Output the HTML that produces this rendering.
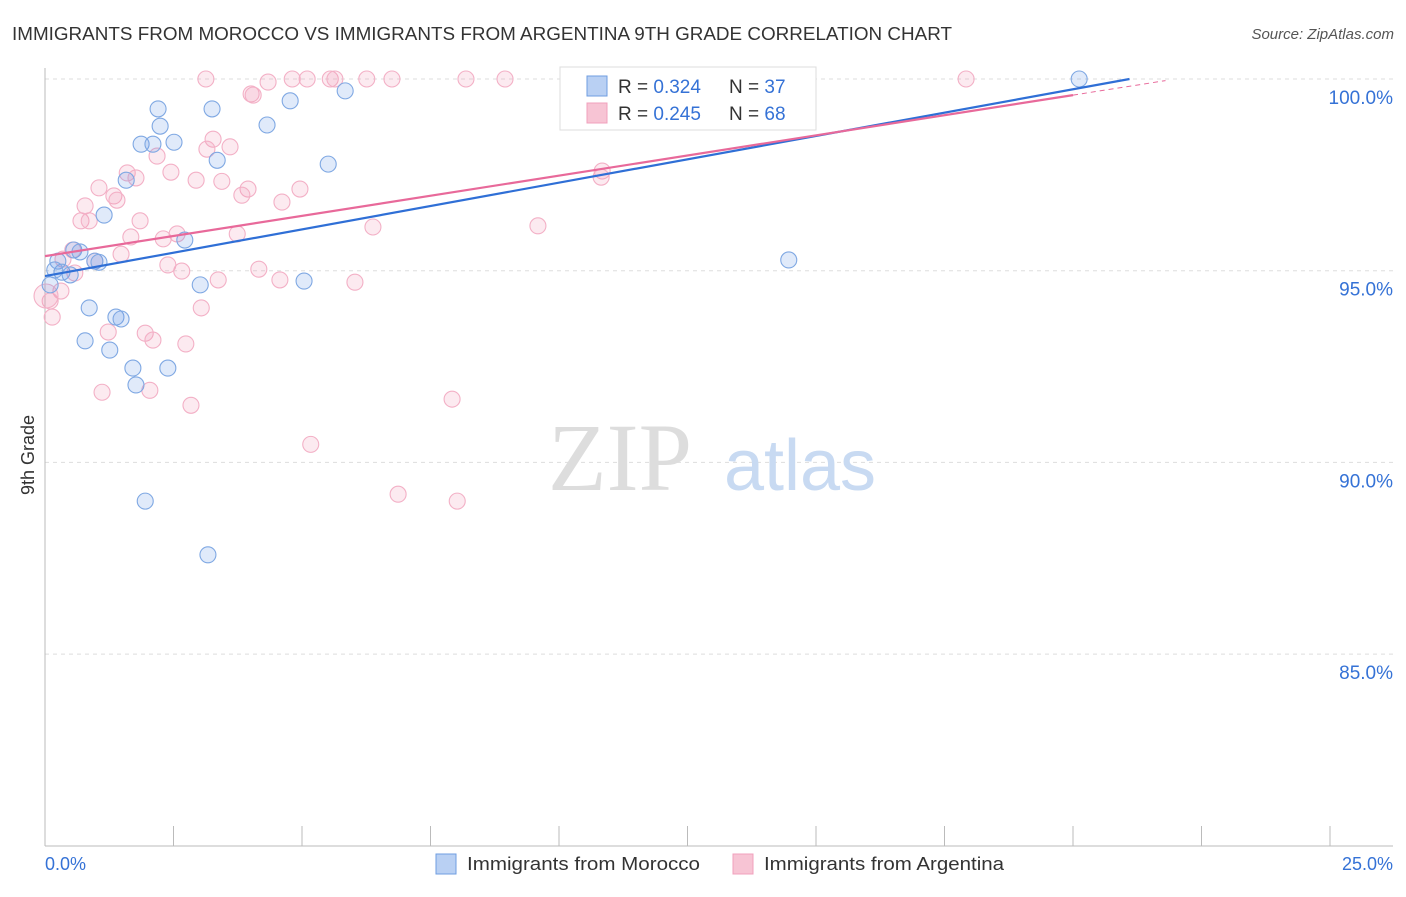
<!DOCTYPE html>
<html><head><meta charset="utf-8"><style>
body{margin:0;background:#fff;font-family:"Liberation Sans",sans-serif;}
</style></head><body>
<svg width="1406" height="892" xmlns="http://www.w3.org/2000/svg">
<text x="12" y="40" font-size="18" fill="#333" textLength="940" lengthAdjust="spacingAndGlyphs">IMMIGRANTS FROM MOROCCO VS IMMIGRANTS FROM ARGENTINA 9TH GRADE CORRELATION CHART</text>
<text x="1394" y="39" font-size="15" fill="#555" font-style="italic" text-anchor="end">Source: ZipAtlas.com</text>
<g id="grid"></g>
<text x="620" y="490" font-size="96" fill="#ddd" font-family="Liberation Serif,serif" text-anchor="middle">ZIP</text>
<text x="800" y="490" font-size="72" fill="#c8daf2" text-anchor="middle">atlas</text>
<text x="34" y="455" font-size="18" fill="#333" transform="rotate(-90 34 455)" text-anchor="middle">9th Grade</text>
<g id="pts"></g>
<g id="lines"></g>
<rect x="560" y="67" width="256" height="63" fill="#fff" stroke="#ddd"/>
<rect x="587" y="76" width="20" height="20" fill="#b9d0f3" stroke="#6f9ee0"/>
<rect x="587" y="103" width="20" height="20" fill="#f7c4d4" stroke="#f0a0bc"/>
<text x="618" y="93" font-size="19" fill="#333">R = <tspan fill="#3572d6">0.324</tspan></text>
<text x="729" y="93" font-size="19" fill="#333">N = <tspan fill="#3572d6">37</tspan></text>
<text x="618" y="120" font-size="19" fill="#333">R = <tspan fill="#3572d6">0.245</tspan></text>
<text x="729" y="120" font-size="19" fill="#333">N = <tspan fill="#3572d6">68</tspan></text>
<text x="45" y="870" font-size="18" fill="#3572d6">0.0%</text>
<text x="1393" y="870" font-size="18" fill="#3572d6" text-anchor="end">25.0%</text>
<rect x="436" y="854" width="20" height="20" fill="#b9d0f3" stroke="#6f9ee0"/>
<text x="467" y="870" font-size="18" fill="#333" textLength="233" lengthAdjust="spacingAndGlyphs">Immigrants from Morocco</text>
<rect x="733" y="854" width="20" height="20" fill="#f7c4d4" stroke="#f0a0bc"/>
<text x="764" y="870" font-size="18" fill="#333" textLength="240" lengthAdjust="spacingAndGlyphs">Immigrants from Argentina</text>
</svg>
<script>
const yTicks=[100,95,90,85];
const xTickCount=10;
const moroccoX=[20.12,2.2,3.25,4.77,5.84,2.24,4.32,1.87,2.1,2.51,3.35,5.51,1.58,1.15,0.56,0.68,2.72,0.25,0.97,1.05,0.33,0.49,14.47,3.02,5.04,0.86,1.38,1.48,0.78,1.26,1.71,2.39,1.77,1.95,3.17,0.1,0.19];
const moroccoY=[100,99.22,99.22,99.43,99.69,98.77,98.8,98.3,98.3,98.35,97.88,97.78,97.36,96.45,95.54,95.49,95.8,95.25,95.25,95.22,94.96,94.89,95.28,94.63,94.73,94.03,93.79,93.74,93.17,92.93,92.46,92.46,92.02,88.99,87.59,94.63,95.02];
const argentinaX=[3.13,4.34,4.81,5.1,5.55,5.64,6.26,6.75,8.19,8.95,17.92,4.01,4.05,3.27,2.18,3.15,3.6,1.6,1.77,2.45,2.94,3.44,3.95,4.96,1.05,1.34,1.4,3.83,0.78,4.61,0.7,0.86,1.85,1.67,2.3,2.57,3.74,6.38,9.59,10.84,10.82,0.54,0.35,0.97,1.48,2.39,2.66,4.16,0.58,3.37,4.57,6.03,0.31,3.04,0.1,0.14,1.23,1.95,2.1,2.74,1.11,2.04,2.84,7.92,5.17,6.87,8.02,0.02];
const argentinaY=[100,99.92,100,100,100,100,100,100,100,100,100,99.61,99.58,98.43,97.99,98.17,98.23,97.55,97.42,97.57,97.36,97.33,97.13,97.13,97.16,96.95,96.84,96.97,96.69,96.79,96.3,96.3,96.3,95.88,95.83,95.96,95.96,96.14,96.17,97.6,97.44,95.54,95.3,95.25,95.43,95.15,94.99,95.04,94.94,94.76,94.76,94.7,94.47,94.03,94.21,93.79,93.4,93.37,93.19,93.09,91.83,91.88,91.49,91.65,90.47,89.17,88.99,94.34];
const trendMorocco=[94.86,100,21.1];
const trendArgentina=[95.38,99.58,20.0,21.8];
const X0=45,X1=1330,Y100=79,PX5=191.7;
const sx=v=>X0+(X1-X0)*v/25;
const sy=v=>Y100+(100-v)/5*PX5;
const NS="http://www.w3.org/2000/svg";
function mk(t,a,p){const e=document.createElementNS(NS,t);for(const k in a)e.setAttribute(k,a[k]);p.appendChild(e);return e;}
const grid=document.getElementById('grid');
yTicks.forEach(v=>{
const l=mk('line',{x1:45,x2:1393,y1:sy(v),y2:sy(v),stroke:'#ddd','stroke-dasharray':'4 4'},grid);


const t=mk('text',{x:1393,y:sy(v)+25,'font-size':19,fill:'#3572d6','text-anchor':'end'},grid);
t.textContent=v.toFixed(1)+'%';


});
const ax=mk('line',{x1:45,x2:45,y1:68,y2:846,stroke:'#bbb'},grid);


const bx=mk('line',{x1:45,x2:1393,y1:846,y2:846,stroke:'#bbb'},grid);


for(let i=0;i<=xTickCount;i++){
const x=sx(25*i/xTickCount);
const tk=mk('line',{x1:x,x2:x,y1:826,y2:846,stroke:'#bbb'},grid);


}
const pts=document.getElementById('pts');
argentinaX.forEach((v,i)=>{
const c=mk('circle',{cx:sx(v),cy:sy(argentinaY[i]),r:i==argentinaX.length-1?12:8,fill:'rgba(240,150,180,0.2)',stroke:'#f3b0c6','stroke-width':1.1},pts);


});
moroccoX.forEach((v,i)=>{
const c=mk('circle',{cx:sx(v),cy:sy(moroccoY[i]),r:8,fill:'rgba(100,150,230,0.2)',stroke:'#7fa8e3','stroke-width':1.1},pts);


});
const lines=document.getElementById('lines');
const mb=trendMorocco;
const l1=mk('line',{x1:sx(0),y1:sy(mb[0]),x2:sx(mb[2]),y2:sy(mb[1]),stroke:'#2f6fd6','stroke-width':2.2},lines);


const ab=trendArgentina, as=(ab[1]-ab[0])/ab[2];
const l2=mk('line',{x1:sx(0),y1:sy(ab[0]),x2:sx(ab[2]),y2:sy(ab[1]),stroke:'#e8699a','stroke-width':2.2},lines);


const l3=mk('line',{x1:sx(ab[2]),y1:sy(ab[1]),x2:sx(ab[3]),y2:sy(ab[0]+as*ab[3]),stroke:'#e8699a','stroke-width':1,'stroke-dasharray':'5 4'},lines);


</script>
</body></html>
